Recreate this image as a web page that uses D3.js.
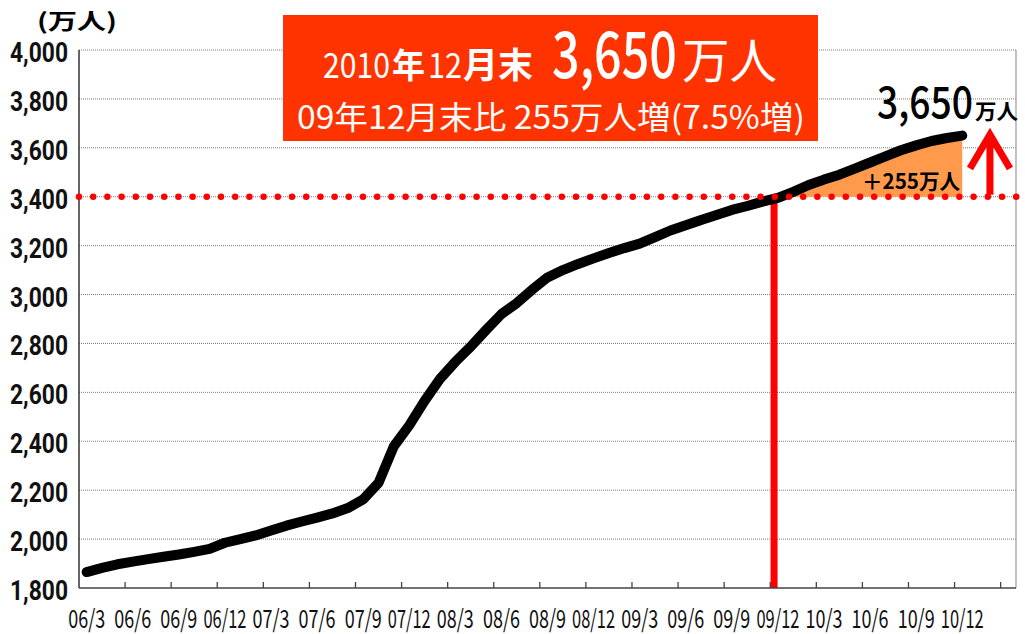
<!DOCTYPE html>
<html>
<head>
<meta charset="utf-8">
<script src="https://cdn.jsdelivr.net/npm/d3@7"></script>
<style>
  body { margin: 0; background: #fff; }
  svg { display: block; font-family: "Noto Sans CJK JP", "Noto Sans", sans-serif; }
</style>
</head>
<body>
<div id="chart"></div>
<script>
let w = 1025;
let h = 634;
let plotLeft = 79, plotRight = 1016, plotTop = 50, plotBottom = 588;

// category axis: one slot per month, 06/3 .. 11/3
let months = [];
for (let yy = 6; yy <= 11; yy++) {
  for (let mm = 1; mm <= 12; mm++) {
    if ((yy === 6 && mm < 3) || (yy === 11 && mm > 3)) continue;
    months.push(String(yy).padStart(2, "0") + "/" + mm);
  }
}

// users (万人), 06/3 .. 10/12
let values = [
  1865, 1882, 1897, 1908, 1918, 1928, 1937, 1948, 1960, 1985,
  2000, 2015, 2035, 2055, 2072, 2088, 2105, 2127, 2162, 2230,
  2380, 2465, 2565, 2655, 2725, 2787, 2855, 2920, 2965, 3020,
  3070, 3100, 3125, 3148, 3170, 3190, 3208, 3235, 3262, 3283,
  3305, 3325, 3346, 3362, 3380, 3395, 3420, 3448, 3470, 3490,
  3515, 3540, 3565, 3590, 3610, 3628, 3640, 3650
];

let xTickLabels = ["06/3", "06/6", "06/9", "06/12", "07/3", "07/6", "07/9", "07/12",
  "08/3", "08/6", "08/9", "08/12", "09/3", "09/6", "09/9", "09/12",
  "10/3", "10/6", "10/9", "10/12"];
let yTicks = [1800, 2000, 2200, 2400, 2600, 2800, 3000, 3200, 3400, 3600, 3800, 4000];

let baseMonth = "09/12";
let baseValue = 3400;

let data = values.map((v, i) => ({ m: months[i], v: v }));

let svg = d3.select("#chart").append("svg").attr("width", w).attr("height", h);

let x = d3.scaleBand().domain(months).range([plotLeft, plotRight]);
let bw = x.bandwidth();
let xc = m => x(m) + bw / 2;
let y = d3.scaleLinear().domain([1800, 4000]).range([plotBottom, plotTop]);

// squeeze a text horizontally so it takes the given width (condensed look)
function fit(t, px, py, width) {
  t.attr("x", 0).attr("y", 0);
  const n = t.node().getComputedTextLength();
  t.attr("transform", `translate(${px},${py}) scale(${width / n},1)`);
  return t;
}

// grid lines
svg.append("g")
  .selectAll("line")
  .data(yTicks.filter(d => d > 1800))
  .enter()
  .append("line")
  .attr("x1", plotLeft).attr("x2", plotRight)
  .attr("y1", d => y(d)).attr("y2", d => y(d))
  .attr("stroke", "#7a7a7a")
  .attr("stroke-width", 1)
  .attr("stroke-dasharray", "1,1");

// right border
svg.append("line")
  .attr("x1", plotRight).attr("x2", plotRight).attr("y1", plotTop).attr("y2", plotBottom)
  .attr("stroke", "#9a9a9a").attr("stroke-width", 1.2);

// y labels
svg.append("g")
  .selectAll("text")
  .data(yTicks)
  .enter()
  .append("text")
  .attr("text-anchor", "end")
  .attr("font-family", "Roboto, 'Noto Sans', sans-serif")
  .attr("font-size", 28)
  .attr("font-weight", "bold")
  .attr("fill", "#111")
  .text(d => d3.format(",")(d))
  .each(function (d) { fit(d3.select(this), 68, y(d) + 12, 58); });

fit(svg.append("text")
  .attr("font-size", 22).attr("font-weight", "bold")
  .text("(万人)"), 37, 29, 80);

// orange increase area
let fillData = data.filter(d => months.indexOf(d.m) >= months.indexOf(baseMonth));
svg.append("path")
  .datum(fillData)
  .attr("fill", "#ff9a4d")
  .attr("d", d3.area()
    .x(d => xc(d.m))
    .y0(y(baseValue))
    .y1(d => y(Math.max(d.v, baseValue))));

// red vertical marker at 09/12
svg.append("line")
  .attr("x1", xc(baseMonth) - bw * 0.25).attr("x2", xc(baseMonth) - bw * 0.25)
  .attr("y1", y(baseValue)).attr("y2", plotBottom)
  .attr("stroke", "#ff0000").attr("stroke-width", 7);

// axes
svg.append("line")
  .attr("x1", plotLeft).attr("x2", plotLeft).attr("y1", plotTop).attr("y2", plotBottom)
  .attr("stroke", "#333").attr("stroke-width", 1.5);
svg.append("line")
  .attr("x1", plotLeft).attr("x2", plotRight).attr("y1", plotBottom).attr("y2", plotBottom)
  .attr("stroke", "#444").attr("stroke-width", 1.5);
svg.append("g")
  .selectAll("line")
  .data(months.filter((m, i) => i > 0 && i % 3 === 0))
  .enter()
  .append("line")
  .attr("x1", d => x(d)).attr("x2", d => x(d))
  .attr("y1", plotBottom).attr("y2", plotBottom - 6)
  .attr("stroke", "#444").attr("stroke-width", 1.3);

svg.append("g")
  .selectAll("text")
  .data(xTickLabels)
  .enter()
  .append("text")
  .attr("text-anchor", "middle")
  .attr("font-size", 25)
  .attr("fill", "#111")
  .text(d => d)
  .each(function (d) { fit(d3.select(this), xc(d), 628, d.length === 4 ? 37 : 43); });

// main line
svg.append("path")
  .datum(data)
  .attr("fill", "none")
  .attr("stroke", "#000")
  .attr("stroke-width", 10)
  .attr("stroke-linejoin", "round")
  .attr("stroke-linecap", "round")
  .attr("d", d3.line().x(d => xc(d.m)).y(d => y(d.v)));

// red dotted line at the 09/12 level
svg.append("line")
  .attr("x1", plotLeft).attr("x2", 1021)
  .attr("y1", y(baseValue)).attr("y2", y(baseValue))
  .attr("stroke", "#ff0000")
  .attr("stroke-width", 6.5)
  .attr("stroke-linecap", "round")
  .attr("stroke-dasharray", "0,14.2");

// red arrow
let last = data[data.length - 1];
let ax = xc(months[59]) - 3;
let tip = y(last.v) - 4;
svg.append("path")
  .attr("fill", "none")
  .attr("stroke", "#ff0000")
  .attr("stroke-width", 7)
  .attr("stroke-linejoin", "miter")
  .attr("d", `M${ax},${y(baseValue) - 2}L${ax},${tip + 4}M${ax - 20},${tip + 37}L${ax},${tip + 3}L${ax + 20},${tip + 37}`);

// value labels
fit(svg.append("text").attr("font-size", 44).attr("font-weight", 500)
  .text(d3.format(",")(last.v)), 877, 118, 96);
fit(svg.append("text").attr("font-size", 21).attr("font-weight", "bold")
  .text("万人"), 975, 119, 43);
fit(svg.append("text").attr("font-size", 21).attr("font-weight", "bold")
  .text("＋255万人"), 862, 189, 98);

// headline box
svg.append("rect")
  .attr("x", 283).attr("y", 15).attr("width", 535).attr("height", 126)
  .attr("fill", "#ff3300");

let head = svg.append("g").attr("fill", "#fff");
let parts = [
  { t: "2010", x: 323, len: 67, size: 35, wt: "normal" },
  { t: "年", x: 392, len: 33, size: 34, wt: "bold" },
  { t: "12", x: 428, len: 34, size: 35, wt: "normal" },
  { t: "月末", x: 463, len: 70, size: 35, wt: "bold" },
  { t: "3,650", x: 552, len: 125, size: 64, wt: 500 },
  { t: "万人", x: 682, len: 95, size: 48, wt: "normal" }
];
parts.forEach(p => {
  fit(head.append("text")
    .attr("font-size", p.size).attr("font-weight", p.wt)
    .text(p.t), p.x, 78, p.len);
});
fit(head.append("text")
  .attr("font-size", 32)
  .text("09年12月末比 255万人増(7.5%増)"), 297, 129, 508);
</script>
</body>
</html>
